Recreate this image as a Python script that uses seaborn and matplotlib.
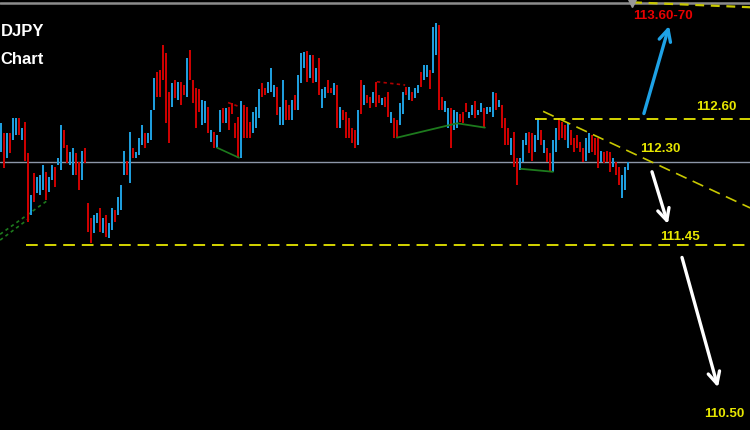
import numpy as np
import matplotlib
matplotlib.use("Agg")
import matplotlib.pyplot as plt
import seaborn as sns

# ---- USDJPY hourly candles (open / close) ----
opens = [
    112.37, 112.50, 112.33, 112.50, 112.45, 112.49, 112.61, 112.45, 112.58, 112.36,
    111.76, 112.19, 111.98, 111.96, 112.01, 112.20, 111.99, 112.12, 112.25, 112.27,
    112.22, 112.52, 112.42, 112.27, 112.17, 112.36, 112.30, 112.12, 112.40, 111.88,
    111.73, 111.57, 111.68, 111.83, 111.57, 111.76, 111.52, 111.60, 111.81, 111.76,
    111.81, 112.17, 112.31, 112.08, 112.40, 112.33, 112.35, 112.42, 112.50, 112.43,
    112.45, 112.68, 113.03, 113.05, 113.28, 113.20, 112.85, 112.71, 112.96, 112.77,
    112.94, 112.91, 112.80, 113.23, 112.96, 112.88, 112.87, 112.56, 112.57, 112.71,
    112.44, 112.51, 112.40, 112.51, 112.70, 112.57, 112.71, 112.75, 112.57, 112.62,
    112.33, 112.73, 112.71, 112.58, 112.50, 112.54, 112.61, 112.93, 112.88, 112.84,
    112.85, 112.80, 112.89, 112.56, 112.56, 112.77, 112.73, 112.59, 112.82, 112.68,
    112.93, 113.07, 113.22, 112.97, 113.18, 112.94, 113.16, 112.70, 112.79, 112.96,
    112.88, 112.82, 112.91, 112.54, 112.68, 112.66, 112.61, 112.54, 112.52, 112.42,
    112.96, 112.73, 112.82, 112.80, 112.75, 112.94, 112.82, 112.73, 112.80, 112.85,
    112.57, 112.61, 112.59, 112.56, 112.65, 112.89, 112.77, 112.85, 112.79, 112.84,
    113.03, 112.96, 112.98, 113.05, 113.02, 113.18, 113.46, 112.80, 112.66, 112.54,
    112.70, 112.52, 112.54, 112.65, 112.66, 112.75, 112.61, 112.64, 112.76, 112.64,
    112.66, 112.70, 112.65, 112.66, 112.62, 112.84, 112.71, 112.73, 112.61, 112.54,
    112.35, 112.51, 112.33, 112.22, 112.30, 112.42, 112.51, 112.50, 112.37, 112.45,
    112.52, 112.36, 112.40, 112.36, 112.20, 112.37, 112.61, 112.58, 112.56, 112.40,
    112.52, 112.47, 112.49, 112.44, 112.40, 112.31, 112.36, 112.49, 112.47, 112.47,
    112.30, 112.37, 112.38, 112.37, 112.25, 112.30, 112.25, 111.93, 112.01, 112.22,
]
closes = [
    112.57, 112.24, 112.50, 112.36, 112.61, 112.61, 112.49, 112.54, 112.31, 111.69,
    111.96, 111.89, 112.15, 112.17, 112.27, 111.91, 112.15, 112.27, 112.04, 112.33,
    112.56, 112.40, 112.29, 112.37, 112.40, 112.17, 112.01, 112.38, 112.29, 111.58,
    111.47, 111.76, 111.78, 111.58, 111.73, 111.53, 111.68, 111.83, 111.69, 111.94,
    112.06, 112.38, 112.17, 112.51, 112.33, 112.37, 112.47, 112.56, 112.40, 112.50,
    112.68, 112.97, 112.80, 112.80, 112.96, 112.57, 112.43, 112.93, 112.79, 112.94,
    112.73, 112.82, 113.16, 112.96, 112.75, 112.54, 112.66, 112.77, 112.76, 112.50,
    112.52, 112.40, 112.49, 112.68, 112.57, 112.70, 112.52, 112.65, 112.47, 112.33,
    112.76, 112.47, 112.47, 112.47, 112.66, 112.71, 112.87, 112.80, 112.82, 112.94,
    113.07, 112.91, 112.64, 112.71, 112.96, 112.59, 112.59, 112.77, 112.68, 113.00,
    113.20, 113.21, 112.94, 113.18, 112.93, 113.07, 112.82, 112.87, 112.89, 112.84,
    112.84, 112.93, 112.54, 112.71, 112.59, 112.47, 112.47, 112.43, 112.40, 112.68,
    112.65, 112.91, 112.75, 112.70, 112.85, 112.71, 112.75, 112.79, 112.71, 112.62,
    112.66, 112.47, 112.47, 112.75, 112.85, 112.82, 112.89, 112.76, 112.88, 112.91,
    112.89, 113.09, 113.09, 112.87, 113.44, 113.48, 112.68, 112.68, 112.76, 112.70,
    112.40, 112.68, 112.66, 112.58, 112.57, 112.66, 112.66, 112.73, 112.61, 112.68,
    112.75, 112.54, 112.71, 112.71, 112.85, 112.68, 112.77, 112.54, 112.42, 112.42,
    112.47, 112.25, 112.06, 112.33, 112.45, 112.50, 112.36, 112.31, 112.49, 112.61,
    112.42, 112.45, 112.30, 112.20, 112.45, 112.54, 112.45, 112.47, 112.45, 112.57,
    112.42, 112.37, 112.40, 112.37, 112.30, 112.47, 112.50, 112.37, 112.35, 112.24,
    112.38, 112.29, 112.30, 112.20, 112.33, 112.17, 112.06, 112.17, 112.25, 112.30,
]

# ---- key levels and targets ----
level_current = 112.30
level_resist = 112.60
level_support = 111.45
target_up = 113.65
target_down = 110.50
label_up = "113.60-70"
label_resist = "112.60"
label_current = "112.30"
label_support = "111.45"
label_down = "110.50"
title_pair = "DJPY"
title_sub = "Chart"

# piecewise-linear price axis (prices -> screen height)
P_ANCH = [109.0, target_down, level_support, level_current, level_resist, target_up, 115.0]
H_ANCH = [-250.9, 16.0, 185.0, 268.0, 311.0, 426.0, 573.9]


def fwd(p):
    return np.interp(p, P_ANCH, H_ANCH)


def inv(h):
    return np.interp(h, H_ANCH, P_ANCH)


sns.set_theme(style="dark", rc={
    "axes.facecolor": "black",
    "figure.facecolor": "black",
    "axes.grid": False,
})
plt.rcParams["font.family"] = ["Liberation Sans", "DejaVu Sans"]

fig = plt.figure(figsize=(7.5, 4.3), dpi=100)
ax = fig.add_axes([0, 0, 1, 1])
ax.set_facecolor("black")
ax.set_yscale("function", functions=(fwd, inv))

BLUE = "#1e9ddc"
RED = "#cc0000"
YEL = "#e6e600"
GREEN_LN = "#1d7a1d"

o = np.array(opens)
c = np.array(closes)
idx = np.arange(len(o))
cols = [BLUE if cc >= oo else RED for oo, cc in zip(o, c)]
ax.bar(idx, c - o, bottom=o, width=0.86, color=cols, linewidth=0, zorder=3)

# horizontal levels
ax.axhline(113.66, color="#8c8c8c", lw=1.8, zorder=2)
ax.axhline(level_current, color="#8c96a8", lw=1.0, zorder=2)
dash = (0, (6.5, 3.8))
ax.plot([178.0, 250], [level_resist, level_resist], color=YEL, lw=1.3, ls=dash, zorder=4)
ax.plot([8.3, 250], [level_support, level_support], color=YEL, lw=1.3, ls=dash, zorder=4)
ax.plot([210.7, 250], [113.665, 113.62], color="#c8c800", lw=1.6, ls=(0, (4, 3)), zorder=4)
ax.plot([210.3], [113.655], marker="v", color="#9a9a9a", ms=6, zorder=5)

# descending trendline
ax.plot([180.7, 249.7], [112.67, 111.83], color="#c8c800", lw=1.2, ls=(0, (7, 4)), zorder=4)

# support / pattern lines
ax.plot([-0.3, 15.7], [111.56, 111.91], color=GREEN_LN, lw=1.2, ls=(0, (2, 2)), zorder=2)
ax.plot([-0.3, 9.3], [111.50, 111.72], color=GREEN_LN, lw=1.2, ls=(0, (2, 2)), zorder=2)
ax.plot([72.0, 79.3], [112.40, 112.33], color=GREEN_LN, lw=1.2, zorder=4)
ax.plot([132.0, 152.0, 161.3], [112.47, 112.57, 112.54], color=GREEN_LN, lw=1.3, zorder=4)
ax.plot([173.3, 184.0], [112.23, 112.20], color=GREEN_LN, lw=1.3, zorder=4)
ax.plot([125.3, 134.7], [112.94, 112.91], color="#b00000", lw=1.2, ls=(0, (2, 2)), zorder=4)
ax.plot([75.7, 79.7], [112.75, 112.71], color="#b00000", lw=1.2, ls=(0, (2, 2)), zorder=4)

# projection arrows
arr = dict(arrowstyle="->,head_length=0.7,head_width=0.35", lw=2.4, shrinkA=0, shrinkB=0)
ax.annotate("", xy=(222.7, 113.45), xytext=(214.3, 112.65),
            arrowprops=dict(arr, color="#1ea2e6"), zorder=6)
ax.annotate("", xy=(222.3, 111.665), xytext=(217.0, 112.20),
            arrowprops=dict(arr, color="white"), zorder=6)
ax.annotate("", xy=(239.0, 110.65), xytext=(227.0, 111.38),
            arrowprops=dict(arr, color="white"), zorder=6)

# labels
tkw = dict(fontsize=9.6, fontweight="bold", ha="center", va="center", zorder=7)
ax.text(220.7, 113.54, label_up, color="#e60000", **tkw)
ax.text(238.3, 112.71, label_resist, color=YEL, **tkw)
ax.text(219.7, 112.39, label_current, color=YEL, **tkw)
ax.text(226.3, 111.53, label_support, color=YEL, **tkw)
ax.text(241.0, target_down, label_down, color=YEL, **tkw)

fig.text(0.5 / 750, 1 - 31 / 430, title_pair, color="white", fontsize=12,
         fontweight="bold", ha="left", va="center")
fig.text(0.5 / 750, 1 - 59 / 430, title_sub, color="white", fontsize=12,
         fontweight="bold", ha="left", va="center")

ax.set_xlim(-1 / 3, 749 / 3)
ax.set_ylim(inv(0), inv(430))
ax.set_xticks([])
ax.set_yticks([])
ax.minorticks_off()
for s in ax.spines.values():
    s.set_visible(False)

fig.savefig("out.png", dpi=100, facecolor="black")
